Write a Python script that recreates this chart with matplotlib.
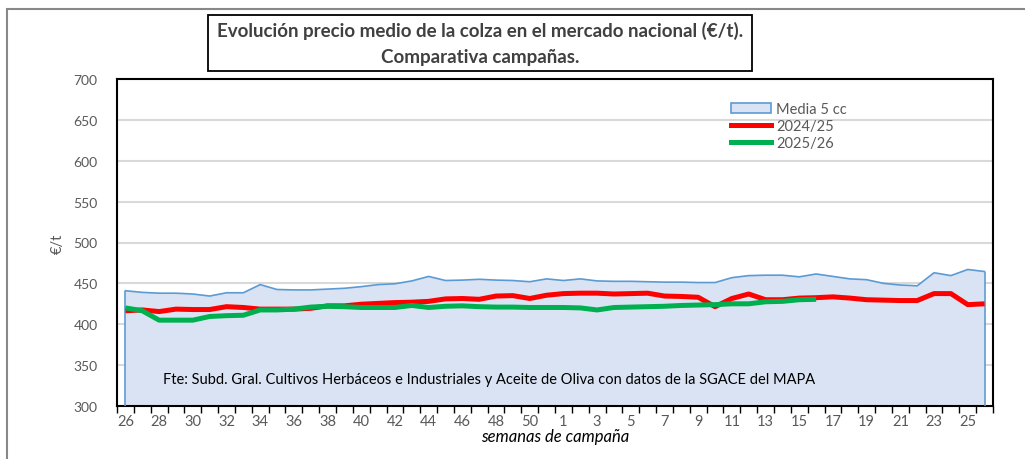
"""Evolución precio medio de la colza - comparativa campañas"""
import matplotlib
matplotlib.use('Agg')
import matplotlib.pyplot as plt
from matplotlib.patches import Patch, Rectangle
from matplotlib.lines import Line2D

plt.rcParams['font.family'] = ['Lato', 'DejaVu Sans']

# Semanas de campaña (eje x)
weeks = list(range(26, 52)) + list(range(1, 27))

# Media de las 5 campañas anteriores
media_5cc = [441, 439, 438, 438, 437, 434.5, 438.5, 438.5, 448.5, 442.5, 442, 442, 443,
             444, 446, 448.5, 449.5, 453, 458.5, 453.5, 454, 455, 454, 453.5, 452, 455.5,
             453.5, 455.5, 453, 452.5, 452.5, 452, 451.5, 451.5, 451, 451, 457, 459.5, 460,
             460, 458, 461.5, 458.5, 455.5, 454.5, 450, 448, 447, 463, 459.5, 467, 464.5]

camp_2425 = [416.5, 417.5, 415.5, 418.5, 418, 418, 421.5, 420.5, 418.5, 418.5, 418.5, 419.5, 422.5,
             422.5, 424.5, 425.5, 426.5, 427, 428, 431, 431.5, 430.5, 434.5, 435, 431.5, 435.5,
             437.5, 438, 438, 437, 437.5, 438, 434.5, 434, 433, 421.5, 431.5, 437, 430,
             430, 432, 432.5, 433.5, 432, 430, 429.5, 429, 429, 437.5, 437.5, 424, 425]

camp_2526 = [420, 416.5, 405, 405, 405, 409.5, 410.5, 411, 417.5, 417.5, 418.5, 421, 422,
             421.5, 420.5, 420.5, 420.5, 423, 420.5, 422, 422.5, 421.5, 421, 421, 420.5, 420.5,
             420.5, 420, 417.5, 420.5, 421, 421.5, 422, 423, 423.5, 424, 425, 425, 427.5,
             428, 430, 430.5]

y_ticks = [300, 350, 400, 450, 500, 550, 600, 650, 700]

fill_color = '#dae3f3'
edge_color = '#5b9bd5'
red = '#ff0000'
green = '#00b050'
text_gray = '#595959'

fig = plt.figure(figsize=(10.25, 4.6), dpi=100)
ax = fig.add_axes([117/1025, 1-407/460, (993-117)/1025, (407-80)/460])

x = list(range(len(weeks)))
y_min = y_ticks[0]

# Media 5 cc: area with outline dropping to the baseline at both ends
ax.fill_between(x, y_min, media_5cc, facecolor=fill_color, edgecolor='none', zorder=2)
ax.plot(x, media_5cc, color=edge_color, lw=1.2, zorder=3)
ax.vlines([x[0], x[-1]], y_min, [media_5cc[0], media_5cc[-1]], color=edge_color, lw=1.2, zorder=3)

ax.plot(x, camp_2425, color=red, lw=3.6, solid_capstyle='butt', zorder=4)
ax.plot(x[:len(camp_2526)], camp_2526, color=green, lw=3.6, solid_capstyle='butt', zorder=5)

ax.set_xlim(-0.5, len(weeks) - 0.5)
ax.set_ylim(y_ticks[0], y_ticks[-1])
ax.set_yticks(y_ticks)
ax.yaxis.grid(True, color='#d9d9d9', lw=1.5, zorder=0)
ax.set_axisbelow(True)
ax.tick_params(axis='y', length=0, pad=14, labelsize=10, labelcolor=text_gray)

# Tick marks between categories, labels every second week
ax.set_xticks([i - 0.5 for i in range(len(weeks) + 1)])
ax.set_xticklabels([])
ax.tick_params(axis='x', which='major', length=5, width=1, color='black', direction='out')
ax.set_xticks(x[::2], minor=True)
ax.set_xticklabels([str(w) for w in weeks[::2]], minor=True)
ax.tick_params(axis='x', which='minor', length=0, pad=6, labelsize=10.5, labelcolor=text_gray)

for side in ['left', 'right', 'top', 'bottom']:
    ax.spines[side].set_color('black')
    ax.spines[side].set_linewidth(1.5)

ax.set_ylabel('€/t', color=text_gray, fontsize=10.5, labelpad=6)
ax.set_xlabel('semanas de campaña', fontsize=12, style='italic', color='black', labelpad=0)

ax.text(0.053, 0.07, 'Fte: Subd. Gral. Cultivos Herbáceos e Industriales y Aceite de Oliva con datos de la SGACE del MAPA',
        transform=ax.transAxes, fontsize=10.5, color='black', zorder=6)

handles = [Patch(facecolor=fill_color, edgecolor=edge_color, lw=1.2),
           Line2D([], [], color=red, lw=3.6),
           Line2D([], [], color=green, lw=3.6)]
ax.legend(handles, ['Media 5 cc', '2024/25', '2025/26'], loc='upper left',
          bbox_to_anchor=(724/1025, 1-96/460), bbox_transform=fig.transFigure,
          frameon=False, fontsize=10.5, labelcolor=text_gray, handlelength=2.7,
          handletextpad=0.4, labelspacing=0.2, borderpad=0)

# Title box
fig.patches.append(Rectangle((208/1025, 1-72/460), (752-208)/1025, (72-16)/460,
                             transform=fig.transFigure, facecolor='white', edgecolor='black', lw=1.3))
fig.text(480/1025, 1-31/460, 'Evolución precio medio de la colza en el mercado nacional (€/t).',
         ha='center', va='center', fontsize=13.5, fontweight='bold', color='#404040')
fig.text(480/1025, 1-57/460, 'Comparativa campañas.',
         ha='center', va='center', fontsize=13.5, fontweight='bold', color='#404040')

# Outer chart frame
fig.patches.append(Rectangle((7/1025, -0.2), 1.2, 1.2 - 10/460, transform=fig.transFigure,
                             facecolor='none', edgecolor='#888888', lw=1.5, clip_on=False))

fig.savefig('out.png', dpi=100)
